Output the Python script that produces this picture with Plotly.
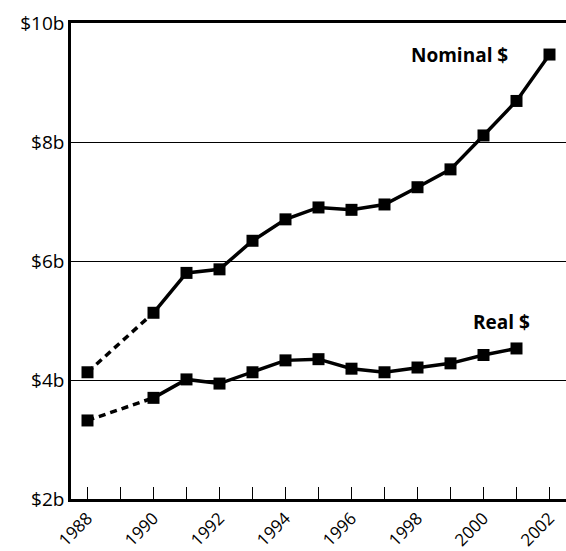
import plotly.graph_objects as go

years = [1988, 1990, 1991, 1992, 1993, 1994, 1995, 1996, 1997, 1998, 1999, 2000, 2001, 2002]
nominal = [4.13, 5.13, 5.80, 5.86, 6.34, 6.70, 6.90, 6.86, 6.95, 7.24, 7.54, 8.11, 8.69, 9.47]
real_years = [1988, 1990, 1991, 1992, 1993, 1994, 1995, 1996, 1997, 1998, 1999, 2000, 2001]
real = [3.32, 3.70, 4.01, 3.94, 4.13, 4.33, 4.35, 4.19, 4.13, 4.21, 4.28, 4.42, 4.53]

y_ticks = [2, 4, 6, 8, 10]
y_tick_labels = ["$2b", "$4b", "$6b", "$8b", "$10b"]
x_ticks = list(range(1988, 2003))
x_tick_labels = [str(y) if y % 2 == 0 else "" for y in x_ticks]

FONT = "Open Sans"
fig = go.Figure()

for xs, ys in [(years, nominal), (real_years, real)]:
    # dashed segment for the gap years
    fig.add_trace(go.Scatter(x=xs[:2], y=ys[:2], mode="lines",
                             line=dict(color="black", width=3.5, dash="7px,5px"),
                             showlegend=False, hoverinfo="skip"))
    fig.add_trace(go.Scatter(x=xs[1:], y=ys[1:], mode="lines",
                             line=dict(color="black", width=3.5),
                             showlegend=False, hoverinfo="skip"))
    fig.add_trace(go.Scatter(x=xs, y=ys, mode="markers",
                             marker=dict(symbol="square", size=12, color="black"),
                             showlegend=False))

fig.add_annotation(x=2000.79, y=9.46, xref="x", yref="y", text="<b>Nominal $</b>",
                   showarrow=False, xanchor="right", yanchor="middle",
                   font=dict(family=FONT, size=19, color="black"))
fig.add_annotation(x=2000.55, y=4.97, xref="x", yref="y", text="<b>Real $</b>",
                   showarrow=False, xanchor="center", yanchor="middle",
                   font=dict(family=FONT, size=19, color="black"))

fig.update_layout(
    width=566, height=551,
    margin=dict(l=71, r=0, t=23, b=52),
    plot_bgcolor="white", paper_bgcolor="white",
    font=dict(family=FONT, size=19, color="black"),
    xaxis=dict(range=[1987.5, 2002.5], tickmode="array", tickvals=x_ticks,
               ticktext=x_tick_labels, tickangle=-45, ticks="inside", ticklen=12,
               tickwidth=1, tickcolor="black", showline=True, linecolor="black",
               linewidth=2.5, mirror=True, showgrid=False, zeroline=False,
               automargin=False, tickfont=dict(family=FONT, size=17)),
    yaxis=dict(range=[2, 10], tickmode="array", tickvals=y_ticks,
               ticktext=y_tick_labels, ticks="", showline=True, linecolor="black",
               linewidth=2.5, showgrid=True, gridcolor="black", gridwidth=1,
               zeroline=False, automargin=False, tickfont=dict(family=FONT, size=19)),
)

fig.write_html("out.html", config={"displayModeBar": False},
               post_script="document.body.style.margin='0';document.body.style.overflow='hidden';")
